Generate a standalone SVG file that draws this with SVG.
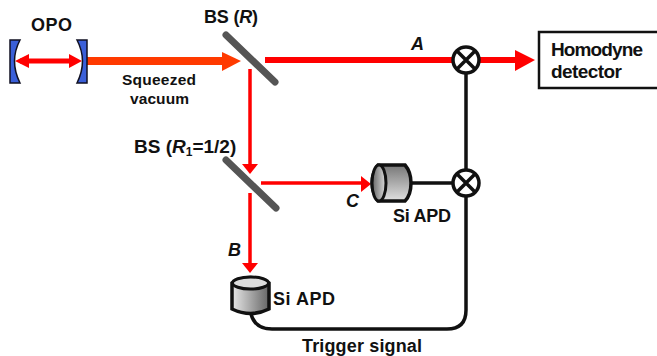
<svg xmlns="http://www.w3.org/2000/svg" width="657" height="356" viewBox="0 0 657 356">
<style>
text{font-family:"Liberation Sans",Arial,sans-serif;font-weight:bold;fill:#111;font-size:18px}
.i{font-style:italic}
.w{fill:none;stroke:#111;stroke-width:3.5}
.r{fill:none;stroke:#f00}
.ah{fill:#f00}
.bs{stroke:#555;stroke-width:7;stroke-linecap:round}
.m{fill:#fff;stroke:#111;stroke-width:3.5}
.b{fill:#3a5fd8;stroke:#112;stroke-width:1.5}
</style>
<defs>
<linearGradient id="gh"><stop offset="0" stop-color="#e8e8e8"/><stop offset="1" stop-color="#666"/></linearGradient>
<linearGradient id="gv" x1="0" y1="0" x2="1" y2="0"><stop offset="0" stop-color="#666"/><stop offset="1" stop-color="#ddd"/></linearGradient>
<linearGradient id="gu" x1="0" y1="0" x2="0" y2="1"><stop offset="0" stop-color="#777"/><stop offset="1" stop-color="#e0e0e0"/></linearGradient>
</defs>
<g id="connectors">
<path class="w" d="M466 60V182M411 183H466M466 182V310Q466 329 447 329H272Q255 329 251 314" />
<path class="r" stroke-width="5" d="M20 61H76"/>
<path class="ah" d="M15 61L29 54V68ZM82 61L69 54V68Z"/>
<path d="M87 61H224" stroke="#ff3a00" stroke-width="8" fill="none"/>
<path d="M241 61L222 52V71Z" fill="#ff3a00"/>
<path class="r" stroke-width="6" d="M265 60H518"/>
<path class="ah" d="M535 60L515 50V71Z"/>
<path class="r" stroke-width="3.5" d="M250 69V166"/>
<path class="ah" d="M250 174L242 164H258Z"/>
<path class="r" stroke-width="3.5" d="M261 183H362"/>
<path class="ah" d="M371 184L361 176V192Z"/>
<path class="r" stroke-width="3.5" d="M250 193V265"/>
<path class="ah" d="M250 273L242 263H258Z"/>
</g>
<g id="opo">
<path class="b" d="M10 40H20Q9 61 20 83H10Z"/>
<path class="b" d="M77 40H87V83H77Q88 61 77 40Z"/>
<text x="31" y="31" textLength="41">OPO</text>
</g>
<g id="squeezed-label">
<text x="122" y="85" textLength="74" style="font-size:15.5px">Squeezed</text>
<text x="130" y="104" textLength="59" style="font-size:15.5px">vacuum</text>
</g>
<g id="bs1"><path class="bs" d="M226 35L275 82"/><text x="204" y="23" textLength="54">BS (<tspan class="i">R</tspan>)</text></g>
<g id="bs2"><path class="bs" d="M226 160L276 208"/><text x="134" y="153" style="font-size:19px">BS (<tspan class="i">R</tspan><tspan style="font-size:12px" dy="3">1</tspan><tspan dy="-3">=1/2)</tspan></text></g>
<g id="mix1"><circle class="m" cx="466" cy="60" r="13"/><path class="w" d="M457 51L475 69M475 51L457 69"/></g>
<g id="mix2"><circle class="m" cx="466" cy="183" r="13"/><path class="w" d="M457 174L475 192M475 174L457 192"/></g>
<g id="homodyne"><rect x="539" y="32" width="125" height="56" fill="#fff" stroke="#111" stroke-width="2.5"/><text x="551" y="56" textLength="92" style="font-size:19px">Homodyne</text><text x="551" y="78" textLength="71" style="font-size:19px">detector</text></g>
<g id="apdc">
<path d="M378 165H405Q411 172 411 183Q411 195 405 201H378Q372 192 372 183Q372 173 378 165Z" fill="url(#gu)" stroke="#111" stroke-width="3.5"/>
<ellipse cx="379" cy="183" rx="7" ry="18" fill="url(#gv)" stroke="#111" stroke-width="3"/>
<text x="393" y="222" textLength="58">Si APD</text>
</g>
<g id="apdb">
<path d="M232 283Q251 272 269 283V309Q251 318 232 309Z" fill="url(#gh)" stroke="#111" stroke-width="3.5"/>
<ellipse cx="250.500" cy="283" rx="18" ry="6" fill="#ddd" stroke="#111" stroke-width="3"/>
<text x="273" y="305" textLength="62">Si APD</text>
</g>
<text class="i" x="411" y="50">A</text>
<text class="i" x="228" y="256">B</text>
<text class="i" x="346" y="207">C</text>
<text x="302" y="352" textLength="120">Trigger signal</text>
</svg>
